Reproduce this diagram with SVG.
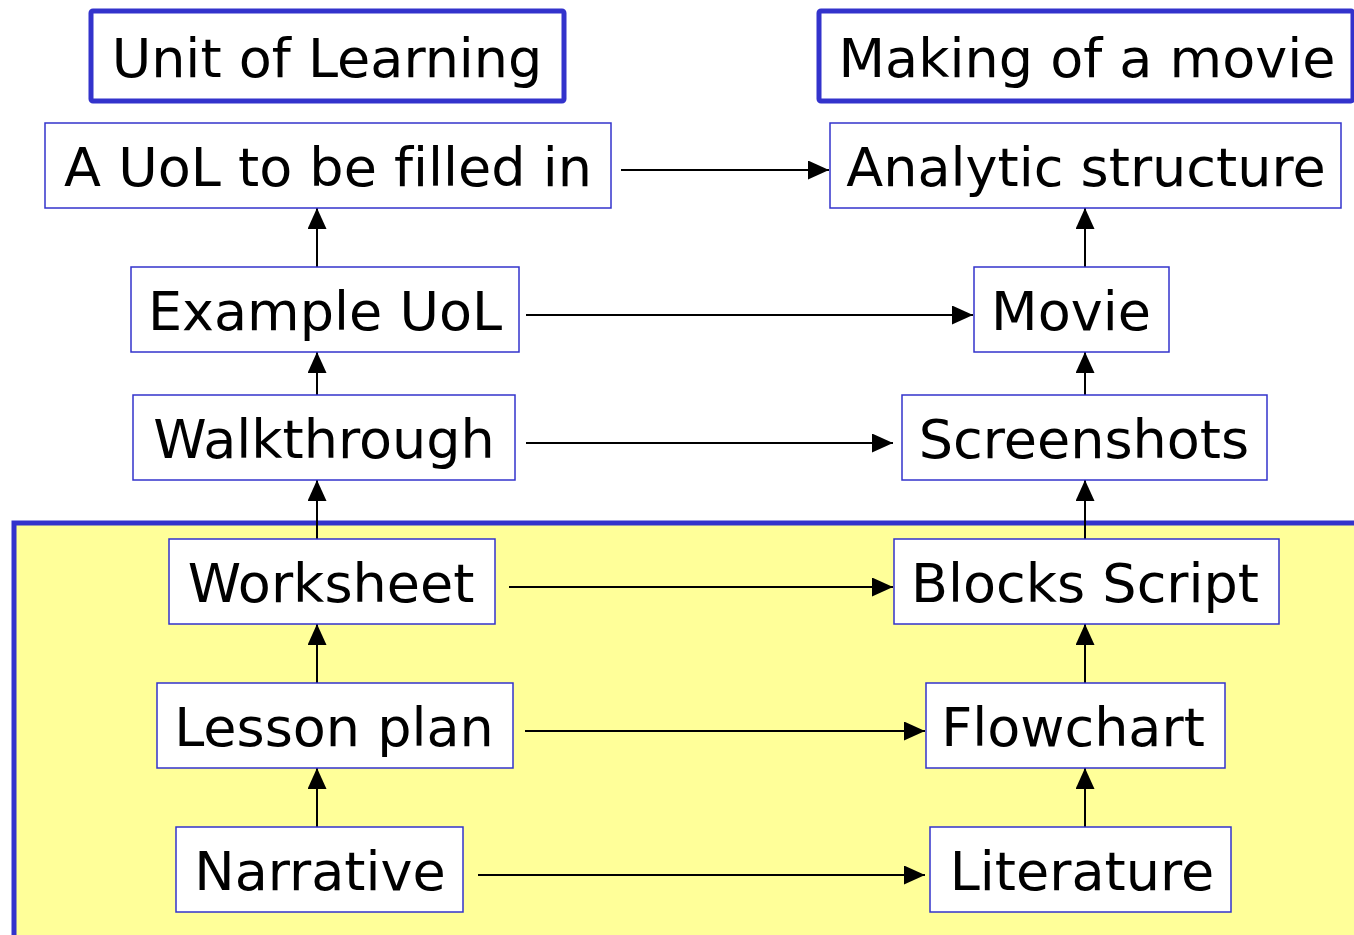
<svg xmlns="http://www.w3.org/2000/svg" width="1354" height="935" viewBox="0 0 1354 935">
<style>
.title{fill:#fff;stroke:#3333cc;stroke-width:5}
.box{fill:#fff;stroke:#3333cc;stroke-width:1.5}
.t{font-family:"DejaVu Sans",Verdana,sans-serif;font-size:54px;fill:#000;text-anchor:middle;font-variant-ligatures:none}
.c{stroke:#000;stroke-width:2;fill:none;marker-end:url(#ah)}
</style>
<defs>
<marker id="ah" viewBox="0 0 21 19" markerWidth="21" markerHeight="19" refX="21" refY="9.5" orient="auto" markerUnits="userSpaceOnUse">
<path d="M0,0 L21,9.5 L0,19 Z" fill="#000"/>
</marker>
</defs>
<rect width="1354" height="935" fill="#fff"/>
<g id="region">
<path d="M14,935 L14,523 L1356,523 L1356,937 Z" fill="#ffff99" stroke="none"/>
<path d="M14,935 L14,523 L1356,523" fill="none" stroke="#3333cc" stroke-width="5"/>
</g>
<g id="connectors">
<line class="c" x1="317" y1="267" x2="317" y2="208"/>
<line class="c" x1="317" y1="395" x2="317" y2="352"/>
<line class="c" x1="317" y1="539" x2="317" y2="480"/>
<line class="c" x1="317" y1="683" x2="317" y2="624"/>
<line class="c" x1="317" y1="827" x2="317" y2="768"/>
<line class="c" x1="1085" y1="267" x2="1085" y2="208"/>
<line class="c" x1="1085" y1="395" x2="1085" y2="352"/>
<line class="c" x1="1085" y1="539" x2="1085" y2="480"/>
<line class="c" x1="1085" y1="683" x2="1085" y2="624"/>
<line class="c" x1="1085" y1="827" x2="1085" y2="768"/>
<line class="c" x1="621" y1="170" x2="829" y2="170"/>
<line class="c" x1="526" y1="315" x2="973" y2="315"/>
<line class="c" x1="526" y1="443" x2="893" y2="443"/>
<line class="c" x1="509" y1="587" x2="893" y2="587"/>
<line class="c" x1="525" y1="731" x2="925" y2="731"/>
<line class="c" x1="478" y1="875" x2="925" y2="875"/>
</g>
<g id="title-uol"><rect class="title" x="91" y="11" width="473" height="90" rx="2"/><text class="t" x="327" y="77">Unit of Learning</text></g>
<g id="title-movie"><rect class="title" x="819" y="11" width="534" height="90" rx="2"/><text class="t" x="1087" y="77">Making of a movie</text></g>
<g id="uol-fill"><rect class="box" x="45" y="123" width="566" height="85"/><text class="t" x="328" y="186">A UoL to be filled in</text></g>
<g id="analytic"><rect class="box" x="830" y="123" width="511" height="85"/><text class="t" x="1086" y="186">Analytic structure</text></g>
<g id="example"><rect class="box" x="131" y="267" width="388" height="85"/><text class="t" x="325" y="330">Example UoL</text></g>
<g id="movie"><rect class="box" x="974" y="267" width="195" height="85"/><text class="t" x="1071" y="330">Movie</text></g>
<g id="walkthrough"><rect class="box" x="133" y="395" width="382" height="85"/><text class="t" x="324" y="458">Walkthrough</text></g>
<g id="screenshots"><rect class="box" x="902" y="395" width="365" height="85"/><text class="t" x="1084" y="458">Screenshots</text></g>
<g id="worksheet"><rect class="box" x="169" y="539" width="326" height="85"/><text class="t" x="331" y="602">Worksheet</text></g>
<g id="blocks"><rect class="box" x="894" y="539" width="385" height="85"/><text class="t" x="1085" y="602">Blocks Script</text></g>
<g id="lesson"><rect class="box" x="157" y="683" width="356" height="85"/><text class="t" x="334" y="746">Lesson plan</text></g>
<g id="flowchart"><rect class="box" x="926" y="683" width="299" height="85"/><text class="t" x="1073" y="746">Flowchart</text></g>
<g id="narrative"><rect class="box" x="176" y="827" width="287" height="85"/><text class="t" x="320" y="890">Narrative</text></g>
<g id="literature"><rect class="box" x="930" y="827" width="301" height="85"/><text class="t" x="1082" y="890">Literature</text></g>
</svg>
